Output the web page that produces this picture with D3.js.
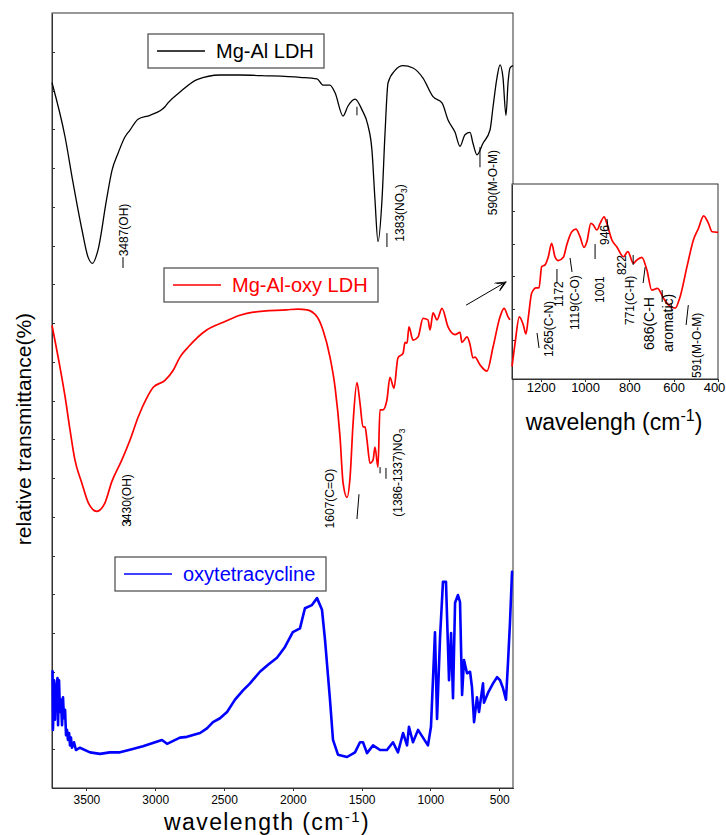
<!DOCTYPE html>
<html>
<head>
<meta charset="utf-8">
<script src="https://d3js.org/d3.v7.min.js"></script>
<style>
  body { margin: 0; background: #fff; }
  svg text { font-family: "Liberation Sans", Arial, sans-serif; fill: #000; }
  .frame { fill: none; stroke: #333; stroke-width: 1; }
  .axis path, .axis line { stroke: #333; shape-rendering: crispEdges; }
  .axis text { font-size: 12.5px; }
  .peak { font-family: "Liberation Sans Narrow", "Arial Narrow", "Liberation Sans", sans-serif; }
  .mark { stroke: #000; stroke-width: 1; fill: none; }
  .legend rect { fill: #fff; stroke: #555; stroke-width: 1.3; }
</style>
</head>
<body>
<svg id="chart" width="726" height="835"></svg>
<script>
// tick labels
var mainTicks = [3500, 3000, 2500, 2000, 1500, 1000, 500];
var insetTicks = [1200, 1000, 800, 600, 400];

// Mg-Al LDH (black)
var ldhWn = [3750,3655,3597,3532,3488,3456,3416,3354,3314,3270,3220,3183,3125,3038,2929,2907,2820,2696,2529,2384,2188,1948,1824,1781,1730,1693,1635,1599,1548,1497,1454,1425,1403,1381,1352,1330,1308,1257,1199,1127,1054,981,916,872,821,785,749,712,691,662,618,567,545,516,494,473,451,436,422,400];
var ldhT = [91.0,84.0,78.1,72.0,68.5,67.7,69.4,75.9,79.7,81.9,84.0,84.9,86.3,86.8,87.9,88.4,89.8,91.4,92.0,92.0,91.9,91.7,91.5,90.7,90.7,89.7,86.7,88.0,88.9,87.5,85.5,82.3,75.9,70.5,75.9,84.5,91.0,92.6,93.2,92.9,91.6,89.2,88.4,86.2,84.6,82.8,84.3,84.6,83.2,81.7,83.2,84.9,87.9,91.7,93.3,91.7,86.8,91.0,92.9,93.2];

// Mg-Al-oxy LDH (red)
var oxyLdhWn = [3750,3692,3655,3619,3583,3534,3486,3425,3365,3316,3243,3183,3123,3062,3014,2929,2869,2820,2760,2626,2505,2384,2287,2044,1961,1897,1824,1781,1730,1693,1657,1635,1606,1584,1562,1534,1512,1490,1475,1461,1439,1417,1403,1381,1367,1345,1316,1294,1265,1236,1199,1185,1170,1156,1127,1090,1054,1018,1003,981,952,916,872,821,785,771,734,712,691,676,640,589,545,494,465,436,422];
var oxyLdhT = [59.7,54.3,50.5,46.2,42.3,39.4,36.8,35.7,36.8,39.5,42.3,44.9,47.9,50.3,51.7,52.6,53.9,55.6,56.9,59.1,60.1,61.0,61.4,61.7,61.8,61.7,60.8,59.1,55.6,51.7,45.3,39.4,37.5,40.1,47.1,52.3,49.7,46.6,46.6,44.9,41.9,42.3,44.0,41.4,48.8,48.8,50.1,53.0,51.6,55.5,56.1,57.5,57.4,59.5,57.8,58.2,60.6,60.4,59.1,61.3,60.4,61.9,59.5,58.5,58.8,57.5,58.2,57.2,55.5,55.6,54.6,53.8,56.9,60.8,61.9,60.8,60.4];

// oxytetracycline (blue)
var otcWn = [3746,3743,3735,3728,3721,3710,3706,3699,3692,3685,3677,3670,3663,3655,3648,3641,3634,3626,3619,3612,3605,3590,3576,3547,3474,3401,3330,3256,3170,3089,2951,2914,2820,2769,2674,2624,2580,2529,2478,2420,2362,2311,2239,2180,2115,2057,2000,1948,1912,1861,1824,1788,1766,1730,1708,1672,1606,1548,1512,1490,1461,1417,1366,1316,1272,1236,1199,1170,1156,1127,1090,1054,1018,996,967,952,930,909,887,865,850,836,821,800,785,770,756,734,712,698,683,662,647,618,611,581,545,516,494,473,451,436,422,407,400];
var otcT = [15.2,7.5,13.9,8.8,12.6,14.2,8.1,13.9,9.8,11.4,8.1,11.7,9.0,10.1,6.8,7.5,6.2,7.1,5.5,6.5,5.2,5.9,4.9,5.2,4.6,4.4,4.6,4.6,5.0,5.4,6.2,5.7,6.5,6.6,7.1,7.7,8.5,9.0,9.8,11.4,12.6,13.5,15.0,15.9,16.8,18.2,20.1,20.6,23.2,23.6,24.5,23.0,19.1,11.4,6.2,4.3,4.0,4.6,5.9,5.9,4.5,5.5,4.9,4.9,5.9,4.6,7.1,5.5,7.9,5.9,7.5,6.5,5.5,7.9,20.1,8.9,19.5,26.6,26.6,13.9,20.0,11.6,23.9,24.9,24.0,12.0,16.5,14.8,15.0,13.0,8.5,11.7,9.8,13.5,11.0,12.3,13.5,14.3,13.9,12.9,11.4,16.3,21.3,27.9,27.9];

// inset: Mg-Al-oxy LDH, 1330-400 cm-1
var insetWn = [1330,1316,1297,1279,1267,1256,1241,1221,1208,1196,1181,1166,1151,1136,1121,1098,1083,1060,1041,1023,1005,992,974,963,947,932,914,902,879,857,827,807,782,767,744,721,699,673,646,623,593,571,540,511,488,465,443,427,400];
var insetT = [6.3,18.5,31.9,27.7,23.1,31.9,44.1,46.7,46.7,57.6,58.5,62.7,69.6,62.7,60.7,62.4,68.7,75.5,76.9,73.0,67.5,70.4,79.8,79.0,76.4,79.8,83.2,79.8,71.3,67.8,62.7,65.3,59.3,61.0,62.4,55.9,45.6,46.5,41.4,37.9,36.3,42.2,57.6,71.3,77.3,83.7,79.8,75.5,75.2];

// peak labels (bottom end of the rotated text, in data units)
var mainLabels = [
  {txt: "3487(OH)", wn: 3227, t: 68.6},
  {txt: "1383(NO", sub: "3", end: ")", wn: 1221, t: 70.5},
  {txt: "590(M-O-M)", wn: 545, t: 73.9},
  {txt: "3430(OH)", wn: 3205, t: 33.7},
  {txt: "1607(C=O)", wn: 1730, t: 33.5},
  {txt: "(1386-1337)NO", sub: "3", wn: 1236, t: 35.0}
];
var mainMarks = [
  [[3234, 68.5], [3234, 67.1]],
  [[1316, 71.6], [1316, 69.8]],
  [[640, 82.7], [640, 80.1]],
  [[1534, 87.9], [1534, 86.8]],
  [[3234, 34.5], [3176, 34.5]],
  [[1519, 37.9], [1534, 34.7]],
  [[1366, 41.4], [1366, 40.6]],
  [[1323, 41.3], [1323, 39.9]]
];
var insetLabels = [
  {txt: "1265(C-N)", wn: 1163, t: 11.3},
  {txt: "1172", wn: 1118, t: 36.9},
  {txt: "1119(C-O)", wn: 1045, t: 25.1},
  {txt: "1001", wn: 932, t: 39.0},
  {txt: "946", wn: 910, t: 68.7},
  {txt: "822", wn: 833, t: 53.3},
  {txt: "771(C-H)", wn: 797, t: 27.7},
  {txt: "686(C-H", wn: 711, t: 14.9, big: true},
  {txt: "aromatic)", wn: 625, t: 13.8, big: true},
  {txt: "591(M-O-M)", wn: 494, t: 0.5}
];
var insetMarks = [
  [[1217, 23.6], [1208, 15.9]],
  [[1127, 56.4], [1127, 49.7]],
  [[1068, 62.1], [1059, 54.9]],
  [[955, 69.2], [955, 61.5]],
  [[901, 82.1], [896, 76.9]],
  [[783, 63.6], [783, 58.5]],
  [[729, 57.4], [738, 49.2]],
  [[652, 45.6], [652, 39.5]],
  [[611, 39.0], [611, 35.4]],
  [[534, 37.9], [544, 27.7]]
];
var arrowFrom = [741, 62.3], arrowTo = [451, 65.3];

var svg = d3.select("#chart");
var M = {left: 52, top: 13, right: 513, bottom: 788};
var I = {left: 512, top: 184, right: 718, bottom: 379};

var x = d3.scaleLinear().domain([3750, 400]).range([M.left, M.right]);
var y = d3.scaleLinear().domain([0, 100]).range([M.bottom, M.top]);
var xi = d3.scaleLinear().domain([1330, 400]).range([I.left, I.right]);
var yi = d3.scaleLinear().domain([0, 100]).range([I.bottom, I.top]);

function zip(a, b) { return a.map(function(d, i) { return [d, b[i]]; }); }

svg.append("defs").append("marker")
  .attr("id", "arrow").attr("viewBox", "0 0 12 10")
  .attr("refX", 11).attr("refY", 5)
  .attr("markerWidth", 12).attr("markerHeight", 10)
  .attr("markerUnits", "userSpaceOnUse").attr("orient", "auto")
  .append("path").attr("d", "M0,0 L11,5 L0,10 M2,1.5 L9,5 L2,8.5")
  .attr("fill", "none").attr("stroke", "#000").attr("stroke-width", 0.9);

// ---- main plot ----
svg.append("g").attr("class", "axis")
  .attr("transform", "translate(0," + M.bottom + ")")
  .call(d3.axisBottom(x).tickValues(mainTicks).tickFormat(d3.format("d"))
    .tickSize(3).tickPadding(4).tickSizeOuter(0))
  .selectAll("text").style("font-size", "12px");
svg.append("g").attr("class", "axis")
  .attr("transform", "translate(" + M.left + ",0)")
  .call(d3.axisLeft(y).tickValues(d3.range(5, 100, 5)).tickSize(-3).tickFormat("").tickSizeOuter(0));

svg.append("rect").attr("class", "frame")
  .attr("x", M.left).attr("y", M.top)
  .attr("width", M.right - M.left).attr("height", M.bottom - M.top);

var line = d3.line().x(function(d) { return x(d[0]); }).y(function(d) { return y(d[1]); });

svg.append("path").datum(zip(ldhWn, ldhT))
  .attr("d", line.curve(d3.curveMonotoneX))
  .attr("fill", "none").attr("stroke", "#000").attr("stroke-width", 1.3);
svg.append("path").datum(zip(oxyLdhWn, oxyLdhT))
  .attr("d", line.curve(d3.curveMonotoneX))
  .attr("fill", "none").attr("stroke", "#ff0000").attr("stroke-width", 1.7);
svg.append("path").datum(zip(otcWn, otcT))
  .attr("d", line.curve(d3.curveLinear))
  .attr("fill", "none").attr("stroke", "#0000ff").attr("stroke-width", 2.6)
  .attr("stroke-linejoin", "round");

function vlabel(g, px, py, d, size) {
  var t = g.append("text").attr("class", "peak").style("font-size", size + "px")
    .attr("transform", "translate(" + (px + size * 0.36) + "," + py + ") rotate(-90)");
  t.append("tspan").text(d.txt);
  if (d.sub) t.append("tspan").attr("dy", size * 0.25).style("font-size", (size * 0.7) + "px").text(d.sub);
  if (d.end) t.append("tspan").attr("dy", -size * 0.25).text(d.end);
}
function marks(g, list, sx, sy) {
  list.forEach(function(m) {
    g.append("line").attr("class", "mark")
      .attr("x1", sx(m[0][0])).attr("y1", sy(m[0][1]))
      .attr("x2", sx(m[1][0])).attr("y2", sy(m[1][1]));
  });
}

var ann = svg.append("g");
mainLabels.forEach(function(d) { vlabel(ann, x(d.wn), y(d.t), d, 12); });
marks(ann, mainMarks, x, y);

ann.append("line").attr("class", "mark")
  .attr("x1", x(arrowFrom[0])).attr("y1", y(arrowFrom[1]))
  .attr("x2", x(arrowTo[0])).attr("y2", y(arrowTo[1]))
  .attr("marker-end", "url(#arrow)");

function legend(lx, ly, w, h, color, label) {
  var g = svg.append("g").attr("class", "legend");
  g.append("rect").attr("x", lx).attr("y", ly).attr("width", w).attr("height", h);
  g.append("line").attr("x1", lx + 9).attr("x2", lx + 57)
    .attr("y1", ly + h / 2).attr("y2", ly + h / 2)
    .attr("stroke", color).attr("stroke-width", 1.3);
  g.append("text").attr("x", lx + 68).attr("y", ly + h / 2 + 7)
    .style("font-size", "20px").style("fill", color).text(label);
}
legend(148, 34, 176, 34, "#000", "Mg-Al LDH");
legend(164, 268, 214, 34, "#ff0000", "Mg-Al-oxy LDH");
legend(115, 557, 211, 34, "#0000ff", "oxytetracycline");

svg.append("text").attr("text-anchor", "middle")
  .attr("transform", "translate(31,429) rotate(-90)")
  .style("font-size", "21px").text("relative transmittance(%)");

var xl = svg.append("text").attr("x", 267).attr("y", 830)
  .attr("text-anchor", "middle").style("font-size", "23px").style("letter-spacing", "1.4px");
xl.append("tspan").text("wavelength (cm");
xl.append("tspan").attr("dy", -8).style("font-size", "15px").text("-1");
xl.append("tspan").attr("dy", 8).text(")");

// ---- inset ----
svg.append("rect").attr("x", I.left).attr("y", I.top)
  .attr("width", I.right - I.left).attr("height", I.bottom - I.top)
  .attr("fill", "#fff");

var ixAxis = svg.append("g").attr("class", "axis")
  .attr("transform", "translate(0," + I.bottom + ")")
  .call(d3.axisBottom(xi).tickValues(insetTicks).tickFormat(d3.format("d"))
    .tickSize(3).tickPadding(1).tickSizeOuter(0));
ixAxis.selectAll("text").style("font-size", "13px");
// keep the last label inside the page
ixAxis.selectAll("text").filter(function(d) { return d === 400; }).attr("dx", -4);
svg.append("g").attr("class", "axis")
  .attr("transform", "translate(" + I.left + ",0)")
  .call(d3.axisLeft(yi).tickValues([20, 36, 53, 69, 86]).tickSize(-3).tickFormat("").tickSizeOuter(0));

svg.append("rect").attr("class", "frame")
  .attr("x", I.left).attr("y", I.top)
  .attr("width", I.right - I.left).attr("height", I.bottom - I.top);

var iline = d3.line().x(function(d) { return xi(d[0]); }).y(function(d) { return yi(d[1]); })
  .curve(d3.curveMonotoneX);
svg.append("path").datum(zip(insetWn, insetT)).attr("d", iline)
  .attr("fill", "none").attr("stroke", "#ff0000").attr("stroke-width", 1.7);

var iann = svg.append("g");
insetLabels.forEach(function(d) { vlabel(iann, xi(d.wn), yi(d.t), d, d.big ? 14 : 12); });
marks(iann, insetMarks, xi, yi);

var il = svg.append("text").attr("x", 614).attr("y", 430)
  .attr("text-anchor", "middle").style("font-size", "23px");
il.append("tspan").text("wavelengh (cm");
il.append("tspan").attr("dy", -9).style("font-size", "16px").text("-1");
il.append("tspan").attr("dy", 9).text(")");
</script>
</body>
</html>
